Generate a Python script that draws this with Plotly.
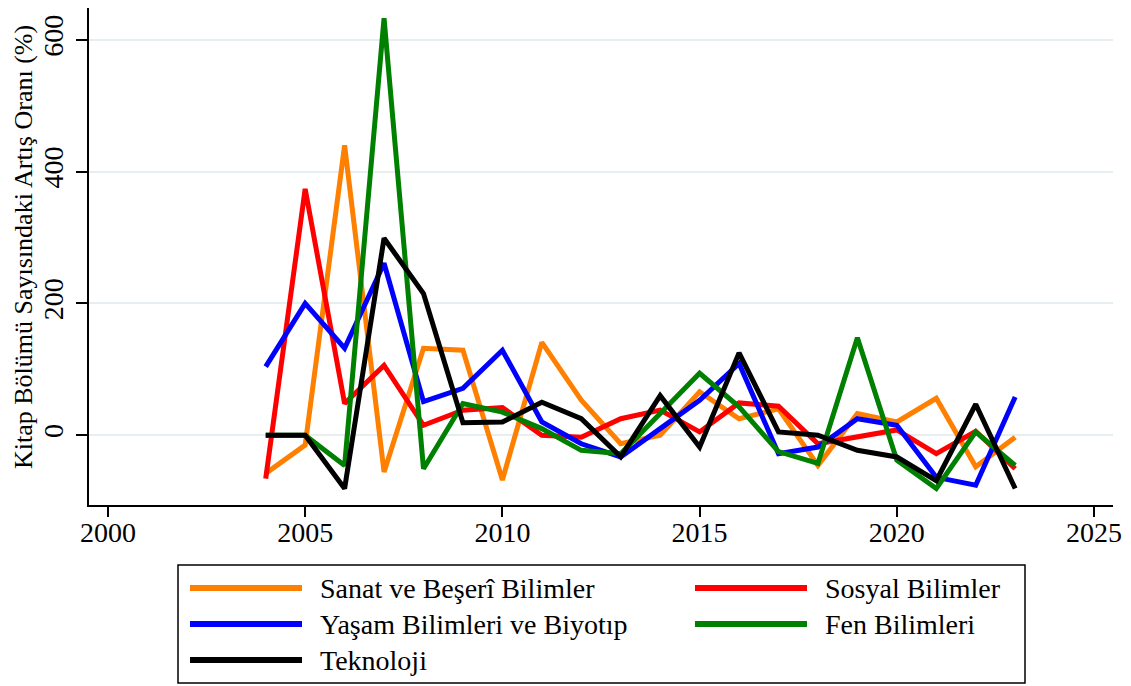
import plotly.graph_objects as go

# data
YEARS = list(range(2004, 2024))
SERIES_NAMES = ["Sanat ve Beşerî Bilimler", "Sosyal Bilimler",
                "Yaşam Bilimleri ve Biyotıp", "Fen Bilimleri", "Teknoloji"]
SANAT = [-58, -15, 440, -56, 132, 129, -68, 141, 53, -13, 0, 66, 25, 40, -46, 33, 20, 56, -48, -3]
SOSYAL = [-66, 374, 48, 106, 15, 38, 42, 0, -3, 25, 38, 5, 49, 44, -13, -3, 8, -28, 6, -51]
YASAM = [104, 200, 132, 261, 51, 71, 129, 20, -13, -33, 10, 53, 109, -28, -18, 25, 15, -64, -76, 58]
FEN = [0, 0, -46, 633, -51, 48, 35, 10, -23, -28, 33, 94, 43, -25, -43, 148, -38, -81, 5, -46]
TEKNO = [0, 0, -81, 299, 215, 19, 20, 50, 25, -33, 60, -18, 125, 5, 0, -23, -33, -69, 47, -81]
X_TICKS = [2000, 2005, 2010, 2015, 2020, 2025]
Y_TICKS = [0, 200, 400, 600]
Y_TITLE = "Kitap Bölümü Sayısındaki Artış Oranı (%)"

COLORS = ["#ff7f00", "#ff0000", "#0000ff", "#008000", "#000000"]
FAMILY = "Liberation Serif, Times New Roman, serif"
FONT = dict(family=FAMILY, size=28, color="#000000")
GRID = "#e6eef1"

# page has an 8px body margin, so the figure is a bit smaller than the window
W, H = 1123, 678
L, R, T, B = 81, 18, 0, 181
PW, PH = W - L - R, H - T - B


def px(x):
    # window pixel -> paper x
    return (x - 8 - L) / PW


def py(y):
    # window pixel -> paper y
    return (H - B + 8 - y) / PH


fig = go.Figure()
for name, vals, col in zip(SERIES_NAMES, [SANAT, SOSYAL, YASAM, FEN, TEKNO], COLORS):
    fig.add_trace(go.Scatter(x=YEARS, y=vals, mode="lines", name=name,
                             line=dict(color=col, width=5), showlegend=False))

# legend drawn by hand: long line samples in a boxed two-column grid
shapes = [dict(type="rect", xref="paper", yref="paper",
               x0=px(178), x1=px(1025), y0=py(683), y1=py(565),
               line=dict(color="#000000", width=1.5), fillcolor="rgba(0,0,0,0)")]
annotations = [dict(xref="paper", yref="paper", x=px(23), y=py(247), text=Y_TITLE,
                    textangle=-90, showarrow=False, xanchor="center", yanchor="middle",
                    font=dict(family=FAMILY, size=26, color="#000000"))]
for i, (name, col) in enumerate(zip(SERIES_NAMES, COLORS)):
    cx = [190, 695][i % 2]
    cy = 588 + 36 * (i // 2)
    shapes.append(dict(type="line", xref="paper", yref="paper",
                       x0=px(cx), x1=px(cx + 112), y0=py(cy), y1=py(cy),
                       line=dict(color=col, width=6)))
    annotations.append(dict(xref="paper", yref="paper", x=px(cx + 128), y=py(cy),
                            text=name, showarrow=False, xanchor="left",
                            yanchor="middle", font=FONT))

fig.update_layout(
    width=W, height=H,
    margin=dict(l=L, r=R, t=T, b=B),
    paper_bgcolor="#ffffff", plot_bgcolor="#ffffff",
    font=FONT,
    shapes=shapes, annotations=annotations,
    xaxis=dict(range=[1999.52, 2025.48], tickvals=X_TICKS, showgrid=False,
               zeroline=False, showline=True, linecolor="#000000", linewidth=1.5,
               ticks="outside", ticklen=10, tickwidth=1.5, tickcolor="#000000",
               tickfont=FONT, ticklabelstandoff=-8, automargin=False),
    yaxis=dict(range=[-106, 648.6], tickvals=Y_TICKS, showgrid=True, gridcolor=GRID,
               gridwidth=1.5, zeroline=False, showline=True, linecolor="#000000",
               linewidth=1.5, ticks="outside", ticklen=11, tickwidth=1.5,
               tickcolor="#000000", tickangle=-90, tickfont=FONT, ticklabelstandoff=2,
               automargin=False),
)

fig.write_html("out.html")
